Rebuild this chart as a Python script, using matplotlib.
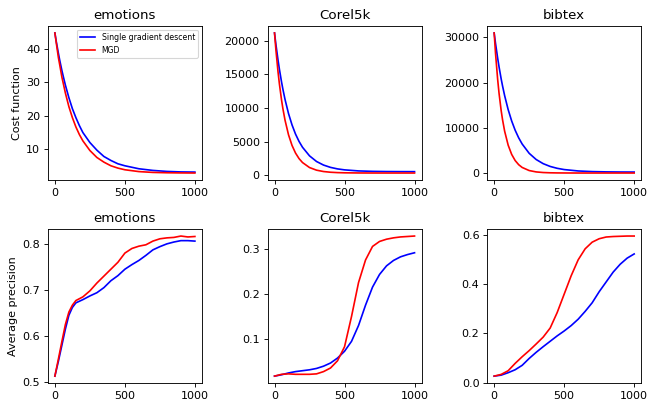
import matplotlib
matplotlib.use('Agg')
import matplotlib.pyplot as plt

# iteration checkpoints
it_cost = [0, 10, 25, 35, 50, 60, 75, 100, 125, 150, 175, 200, 250,
           300, 350, 400, 450, 500, 600, 700, 800, 900, 1000]
it_ap = [0, 50, 100, 150, 200, 250, 300, 350, 400, 450, 500,
         550, 600, 650, 700, 750, 800, 850, 900, 950, 1000]
it_emo = [0, 25, 50, 75, 100, 125, 150, 200, 250, 300, 350, 400, 450, 500,
          550, 600, 650, 700, 750, 800, 850, 900, 950, 1000]

# cost function
emo_cost_sgd = [44.9, 42.3, 38.8, 36.6, 33.6, 31.8, 29.2, 25.4, 22.1, 19.4, 17.0, 14.9, 11.9,
                9.6, 7.7, 6.5, 5.5, 4.9, 4.0, 3.5, 3.2, 3.05, 3.0]
emo_cost_mgd = [44.9, 41.9, 37.5, 35.2, 31.6, 29.7, 26.8, 22.7, 19.4, 16.6, 14.3, 12.4, 9.5,
                7.4, 6.0, 4.9, 4.2, 3.7, 3.15, 2.9, 2.8, 2.75, 2.72]
corel_cost_sgd = [21200, 19475, 17160, 15770, 13900, 12785, 11280, 9170, 7480, 6110, 5020, 4140, 2860,
                  2020, 1487, 1140, 913, 770, 612, 547, 520, 508, 503]
corel_cost_mgd = [21200, 18650, 15400, 13570, 11220, 9887, 8190, 6000, 4420, 3280, 2455, 1860, 1115,
                  725, 522, 416, 361, 331, 308, 302, 300, 300, 300]
bib_cost_sgd = [31000, 28640, 25440, 23500, 20870, 19300, 17150, 14090, 11590, 9540, 7870, 6500, 4450,
                3080, 2166, 1550, 1138, 862, 552, 413, 351, 322, 310]
bib_cost_mgd = [31000, 26400, 20750, 17670, 13890, 11840, 9310, 6250, 4210, 2850, 1940, 1327, 647,
                344, 208, 149, 122, 110, 100, 100, 100, 100, 100]

# average precision
emo_ap_sgd = [0.513, 0.545, 0.580, 0.615, 0.645, 0.662, 0.672, 0.679, 0.687, 0.694, 0.705, 0.720,
              0.731, 0.745, 0.755, 0.764, 0.775, 0.787, 0.794, 0.800, 0.804, 0.807, 0.807, 0.806]
emo_ap_mgd = [0.513, 0.550, 0.588, 0.625, 0.652, 0.667, 0.677, 0.685, 0.698, 0.715, 0.730, 0.745,
              0.760, 0.780, 0.790, 0.795, 0.798, 0.806, 0.811, 0.813, 0.814, 0.817, 0.815, 0.816]
corel_ap_sgd = [0.018, 0.021, 0.025, 0.028, 0.030, 0.032, 0.035, 0.040, 0.047, 0.058, 0.073,
                0.095, 0.130, 0.175, 0.215, 0.243, 0.262, 0.274, 0.282, 0.287, 0.291]
corel_ap_mgd = [0.018, 0.022, 0.023, 0.022, 0.022, 0.022, 0.023, 0.028, 0.036, 0.052, 0.083,
                0.150, 0.225, 0.275, 0.305, 0.316, 0.321, 0.324, 0.326, 0.327, 0.328]
bib_ap_sgd = [0.026, 0.030, 0.040, 0.052, 0.070, 0.098, 0.123, 0.146, 0.168, 0.190, 0.210,
              0.232, 0.258, 0.290, 0.325, 0.370, 0.410, 0.450, 0.482, 0.507, 0.524]
bib_ap_mgd = [0.026, 0.033, 0.048, 0.078, 0.105, 0.130, 0.157, 0.185, 0.222, 0.285, 0.360,
              0.435, 0.500, 0.545, 0.572, 0.586, 0.593, 0.595, 0.596, 0.597, 0.597]

titles = ['emotions', 'Corel5k', 'bibtex']

fig, axes = plt.subplots(2, 3, figsize=(647 / 80, 405 / 80), dpi=80)
fig.subplots_adjust(left=0.074, right=0.991, bottom=0.054, top=0.936, wspace=0.426, hspace=0.318)

top = [(it_cost, emo_cost_sgd, emo_cost_mgd),
       (it_cost, corel_cost_sgd, corel_cost_mgd),
       (it_cost, bib_cost_sgd, bib_cost_mgd)]
bottom = [(it_emo, emo_ap_sgd, emo_ap_mgd),
          (it_ap, corel_ap_sgd, corel_ap_mgd),
          (it_ap, bib_ap_sgd, bib_ap_mgd)]

for j in range(3):
    x, s, m = top[j]
    ax = axes[0, j]
    ax.plot(x, s, 'b-', label='Single gradient descent')
    ax.plot(x, m, 'r-', label='MGD')
    ax.set_title(titles[j])

    x, s, m = bottom[j]
    ax = axes[1, j]
    ax.plot(x, s, 'b-')
    ax.plot(x, m, 'r-')
    ax.set_title(titles[j])

axes[0, 0].set_ylabel('Cost function')
axes[1, 0].set_ylabel('Average precision')
axes[0, 0].legend(loc='upper right', fontsize=7)

fig.savefig('out.png', dpi=80)
